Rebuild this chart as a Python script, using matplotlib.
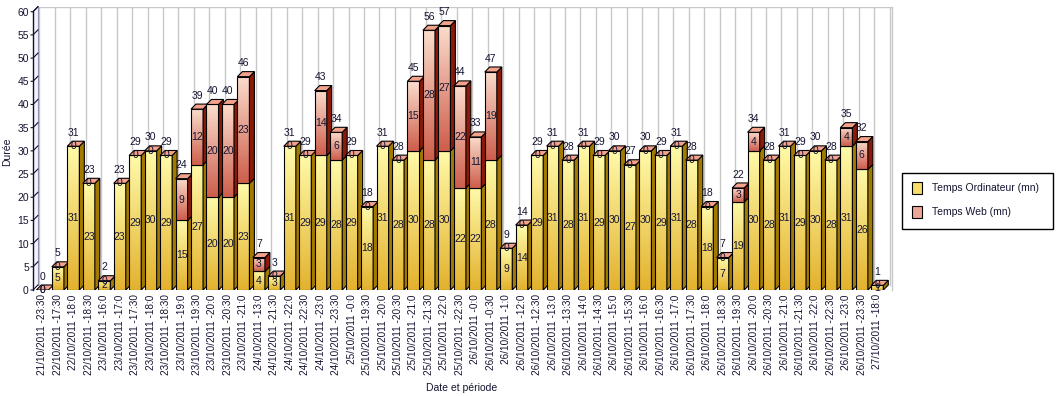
# %%
import numpy as np
import matplotlib.pyplot as plt
from matplotlib.patches import Polygon, Rectangle
from matplotlib.colors import LinearSegmentedColormap

plt.rcParams['font.family'] = ['Liberation Sans', 'DejaVu Sans']

# %% data
labels = ['21/10/2011 -23:30', '22/10/2011 -17:30', '22/10/2011 -18:0', '22/10/2011 -18:30',
          '23/10/2011 -16:0', '23/10/2011 -17:0', '23/10/2011 -17:30', '23/10/2011 -18:0',
          '23/10/2011 -18:30', '23/10/2011 -19:0', '23/10/2011 -19:30', '23/10/2011 -20:0',
          '23/10/2011 -20:30', '23/10/2011 -21:0', '24/10/2011 -13:0', '24/10/2011 -21:30',
          '24/10/2011 -22:0', '24/10/2011 -22:30', '24/10/2011 -23:0', '24/10/2011 -23:30',
          '25/10/2011 -0:0', '25/10/2011 -19:30', '25/10/2011 -20:0', '25/10/2011 -20:30',
          '25/10/2011 -21:0', '25/10/2011 -21:30', '25/10/2011 -22:0', '25/10/2011 -22:30',
          '26/10/2011 -0:0', '26/10/2011 -0:30', '26/10/2011 -1:0', '26/10/2011 -12:0',
          '26/10/2011 -12:30', '26/10/2011 -13:0', '26/10/2011 -13:30', '26/10/2011 -14:0',
          '26/10/2011 -14:30', '26/10/2011 -15:0', '26/10/2011 -15:30', '26/10/2011 -16:0',
          '26/10/2011 -16:30', '26/10/2011 -17:0', '26/10/2011 -17:30', '26/10/2011 -18:0',
          '26/10/2011 -18:30', '26/10/2011 -19:30', '26/10/2011 -20:0', '26/10/2011 -20:30',
          '26/10/2011 -21:0', '26/10/2011 -21:30', '26/10/2011 -22:0', '26/10/2011 -22:30',
          '26/10/2011 -23:0', '26/10/2011 -23:30', '27/10/2011 -18:0']

temps_ordinateur = [0, 5, 31, 23, 2, 23, 29, 30, 29, 15,
                    27, 20, 20, 23, 4, 3, 31, 29, 29, 28,
                    29, 18, 31, 28, 30, 28, 30, 22, 22, 28,
                    9, 14, 29, 31, 28, 31, 29, 30, 27, 30,
                    29, 31, 28, 18, 7, 19, 30, 28, 31, 29,
                    30, 28, 31, 26, 1]

temps_web = [0, 0, 0, 0, 0, 0, 0, 0, 0, 9,
             12, 20, 20, 23, 3, 0, 0, 0, 14, 6,
             0, 0, 0, 0, 15, 28, 27, 22, 11, 19,
             0, 0, 0, 0, 0, 0, 0, 0, 0, 0,
             0, 0, 0, 0, 0, 3, 4, 0, 0, 0,
             0, 0, 4, 6, 0]

# %% layout / style constants
W, H = 1056, 396
BAR_W = 0.78
DX, DY = 0.32, 1.08      # fake 3d depth, data units
XMIN, XMAX = -0.61, 54.95
YMAX = 60
TXT = '#141432'

cm_ord = LinearSegmentedColormap.from_list('ord', ['#FFFAA8', '#E3B22E'])
cm_web = LinearSegmentedColormap.from_list('web', ['#FBDCCC', '#CE5E4C'])
SIDE_ORD, SIDE_WEB, TOP_WEB = '#A37A00', '#8B1A0A', '#F4A28C'
grad = np.linspace(0, 1, 64).reshape(-1, 1)


def bar3d(ax, x, y0, y1, cmap, side, z):
    x0, x1 = x - BAR_W / 2, x + BAR_W / 2
    if y1 > y0:
        ax.imshow(grad, cmap=cmap, extent=[x0, x1, y0, y1], aspect='auto',
                  interpolation='bilinear', zorder=z)
        ax.add_patch(Rectangle((x0, y0), BAR_W, y1 - y0, fill=False,
                               ec='black', lw=0.8, zorder=z + 0.001))
        ax.add_patch(Polygon([(x1, y0), (x1 + DX, y0 + DY), (x1 + DX, y1 + DY), (x1, y1)],
                             fc=side, ec='black', lw=0.8, zorder=z + 0.002))


fig = plt.figure(figsize=(W / 100, H / 100), dpi=100)
ax = fig.add_axes([33 / W, 1 - 290 / H, (892 - 33) / W, (290 - 6.7) / H])
ax.set_xlim(XMIN, XMAX)
ax.set_ylim(0, YMAX + DY)
for s in ax.spines.values():
    s.set_visible(False)

# back wall grid and frame
for i in range(len(labels) + 1):
    ax.plot([i - 0.2, i - 0.2], [DY, YMAX + DY], color='#C8C8C8', lw=1, zorder=1)
ax.plot([XMIN + DX, XMAX], [YMAX + DY, YMAX + DY], color='#C8C8C8', lw=1, zorder=1)
ax.plot([XMAX, XMAX], [0, YMAX + DY], color='#C8C8C8', lw=1, zorder=1, clip_on=False)

# y axis wall
ax.add_patch(Polygon([(XMIN, 0), (XMIN + DX, DY), (XMIN + DX, YMAX + DY), (XMIN, YMAX)],
                     fc='#F3F3FC', ec='none', zorder=1.5, clip_on=False))
ax.plot([XMIN, XMIN], [0, YMAX], color='#101030', lw=1, zorder=1.6, clip_on=False)
ax.plot([XMIN + DX, XMIN + DX], [DY, YMAX + DY], color='#9090B0', lw=0.8, zorder=1.6)
ax.plot([XMIN, XMIN + DX], [YMAX, YMAX + DY], color='#101030', lw=0.8, zorder=1.6, clip_on=False)
for yt in range(0, YMAX + 1, 5):
    ax.plot([XMIN - 0.12, XMIN, XMIN + DX], [yt, yt, yt + DY], color='#101030', lw=0.8,
            zorder=1.6, clip_on=False)

# bars, left to right so each one covers the side of the previous
x = np.arange(len(labels))
for i, (o, w) in enumerate(zip(temps_ordinateur, temps_web)):
    z = 2 + i * 0.01
    bar3d(ax, x[i], 0, o, cm_ord, SIDE_ORD, z)
    bar3d(ax, x[i], o, o + w, cm_web, SIDE_WEB, z + 0.003)
    top = o + w
    x0, x1 = x[i] - BAR_W / 2, x[i] + BAR_W / 2
    ax.add_patch(Polygon([(x0, top), (x0 + DX, top + DY), (x1 + DX, top + DY), (x1, top)],
                         fc=TOP_WEB, ec='black', lw=0.8, zorder=z + 0.007))

    ax.text(x[i], o / 2, str(o), ha='center', va='center', fontsize=7.5, color=TXT, zorder=5)
    ax.text(x[i], o + w / 2, str(w), ha='center', va='center', fontsize=7.5, color=TXT, zorder=5)
    ax.text(x[i], top + 2.9, str(top), ha='center', va='center', fontsize=7.5, color=TXT, zorder=5)

ax.set_xlim(XMIN, XMAX)
ax.set_ylim(0, YMAX + DY)
ax.set_yticks(range(0, YMAX + 1, 5))
ax.set_xticks(x)
ax.set_xticklabels(labels, rotation=90, fontsize=7.2, color=TXT)
ax.tick_params(axis='y', length=0, pad=3, labelsize=7.5, labelcolor=TXT)
ax.tick_params(axis='x', length=0, pad=3)

fig.text(7 / W, 1 - 152 / H, 'Durée', rotation=90, ha='center', va='center', fontsize=7.5, color=TXT)
fig.text(462 / W, 1 - 388 / H, 'Date et période', ha='center', va='center', fontsize=7.5, color=TXT)

# legend drawn by hand in figure pixels
fig.add_artist(Rectangle((902 / W, 1 - 229 / H), 151 / W, 56 / H, transform=fig.transFigure,
                         fc='white', ec='black', lw=1))
for yy, col, name in [(188, '#F6DC68', 'Temps Ordinateur (mn)'), (212, '#EBA896', 'Temps Web (mn)')]:
    fig.add_artist(Rectangle((912 / W, 1 - (yy + 6) / H), 10 / W, 12 / H, transform=fig.transFigure,
                             fc=col, ec='black', lw=0.8))
    fig.text(932 / W, 1 - yy / H, name, ha='left', va='center', fontsize=7.5, color=TXT)

fig.savefig('out.png', dpi=100)
